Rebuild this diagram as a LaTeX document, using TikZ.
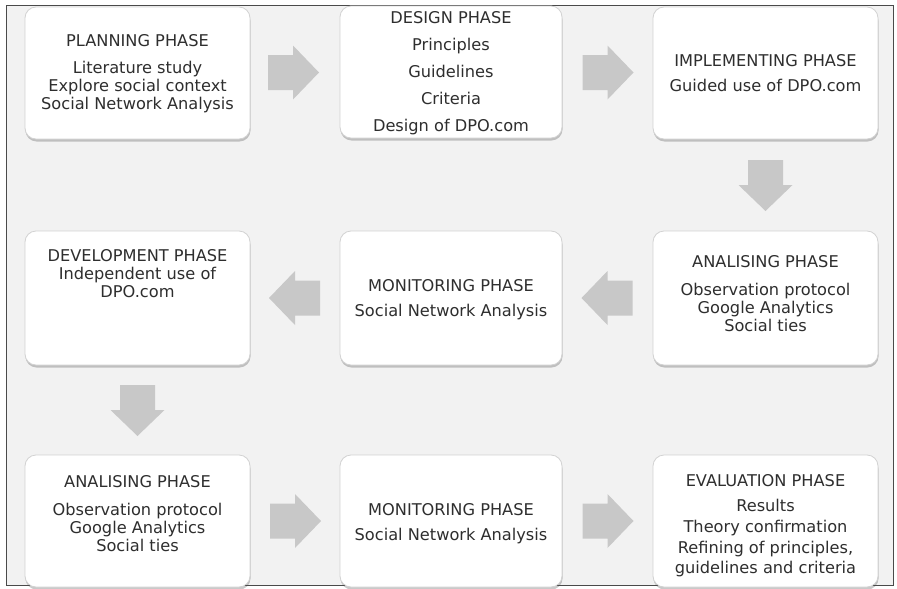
\documentclass[tikz,border=0pt]{standalone}
\usepackage{fontspec}
\setmainfont{DejaVu Sans}
\usetikzlibrary{shadows,calc}
\definecolor{bgc}{HTML}{F2F2F2}
\definecolor{framec}{HTML}{4A4A4A}
\definecolor{boxline}{HTML}{D2D2D2}
\definecolor{arrc}{HTML}{C8C8C8}
\definecolor{txtc}{HTML}{2E2E2E}
\begin{document}
\begin{tikzpicture}[x=1pt,y=-1pt,
  phase/.style={draw=boxline, line width=0.8pt, fill=white, rounded corners=11pt,
    inner sep=0pt, minimum width=225pt,
    drop shadow={shadow xshift=0.5pt, shadow yshift=-2.5pt, opacity=0.3, fill=black!70}},
  txt/.style={text=txtc, font=\fontsize{16.2}{18}\selectfont, align=center, inner sep=0pt, anchor=base},
  blockarrow/.pic={\fill[arrc] (-25,-17.5) -- (0,-17.5) -- (0,-27) -- (26,0) -- (0,27) -- (0,17.5) -- (-25,17.5) -- cycle;}
]
\useasboundingbox (0,0) rectangle (897,589);
\draw[framec, line width=1pt, fill=bgc] (6,5) rectangle (893,585);

% boxes
\node[phase, minimum height=132pt] (b1) at (137.5,73) {};
\node[phase, minimum height=132pt, minimum width=222pt] (b2) at (451,72) {};
\node[phase, minimum height=132pt] (b3) at (765.5,73) {};
\node[phase, minimum height=134pt] (b4) at (137.5,298) {};
\node[phase, minimum height=134pt, minimum width=222pt] (b5) at (451,298) {};
\node[phase, minimum height=134pt] (b6) at (765.5,298) {};
\node[phase, minimum height=132pt] (b7) at (137.5,521) {};
\node[phase, minimum height=132pt, minimum width=222pt] (b8) at (451,521) {};
\node[phase, minimum height=132pt] (b9) at (765.5,521) {};

% texts (anchored at the baseline of the last line)
\node[txt] (t1) at (137.5,109) {PLANNING PHASE\\[9pt]Literature study\\Explore social context\\Social Network Analysis};
\node[txt] (t2) at (451,131) {DESIGN PHASE\\[9pt]Principles\\[9pt]Guidelines\\[9pt]Criteria\\[9pt]Design of DPO.com};
\node[txt] (t3) at (765.5,91) {IMPLEMENTING PHASE\\[7pt]Guided use of DPO.com};
\node[txt] (t4) at (137.5,297) {DEVELOPMENT PHASE\\Independent use of\\DPO.com};
\node[txt] (t5) at (451,316) {MONITORING PHASE\\[7pt]Social Network Analysis};
\node[txt] (t6) at (765.5,331) {ANALISING PHASE\\[10pt]Observation protocol\\Google Analytics\\Social ties};
\node[txt] (t7) at (137.5,551) {ANALISING PHASE\\[10pt]Observation protocol\\Google Analytics\\Social ties};
\node[txt] (t8) at (451,540) {MONITORING PHASE\\[7pt]Social Network Analysis};
\node[txt] (t9) at (765.5,573) {EVALUATION PHASE\\[7pt]Results\\[3pt]Theory confirmation\\[3pt]Refining of principles,\\[2pt]guidelines and criteria};

% block arrows
\pic at ($(b1.east)!0.5!(b2.west)+(-2,0)$) {blockarrow};
\pic at ($(b2.east)!0.5!(b3.west)$) {blockarrow};
\pic[rotate=-90] at ($(b3.south)!0.5!(b6.north)$) {blockarrow};
\pic[rotate=180] at ($(b6.west)!0.5!(b5.east)$) {blockarrow};
\pic[rotate=180] at ($(b5.west)!0.5!(b4.east)$) {blockarrow};
\pic[rotate=-90] at ($(b4.south)!0.5!(b7.north)$) {blockarrow};
\pic at ($(b7.east)!0.5!(b8.west)$) {blockarrow};
\pic at ($(b8.east)!0.5!(b9.west)$) {blockarrow};
\end{tikzpicture}
\end{document}
